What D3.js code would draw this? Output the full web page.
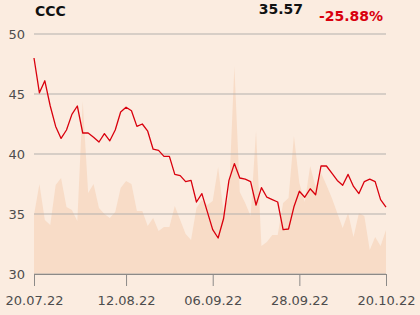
<!DOCTYPE html>
<html>
<head>
<script src="https://d3js.org/d3.v7.min.js"></script>
<style>
  body { margin: 0; background: #fbece0; }
  svg { font-family: "DejaVu Sans", sans-serif; }
</style>
</head>
<body>
<div id="chart"></div>
<script>
// trading days shown on the chart
var dates = ["20.07.22","21.07.22","22.07.22","25.07.22","26.07.22","27.07.22","28.07.22","29.07.22",
  "01.08.22","02.08.22","03.08.22","04.08.22","05.08.22","08.08.22","09.08.22","10.08.22","11.08.22","12.08.22",
  "16.08.22","17.08.22","18.08.22","19.08.22","22.08.22","23.08.22","24.08.22","25.08.22","26.08.22",
  "29.08.22","30.08.22","31.08.22","01.09.22","02.09.22","05.09.22","06.09.22",
  "07.09.22","08.09.22","09.09.22","12.09.22","13.09.22","14.09.22","15.09.22","16.09.22",
  "19.09.22","20.09.22","21.09.22","22.09.22","23.09.22","26.09.22","27.09.22","28.09.22",
  "29.09.22","30.09.22","03.10.22","04.10.22","05.10.22","06.10.22","07.10.22",
  "10.10.22","11.10.22","12.10.22","13.10.22","14.10.22","17.10.22","18.10.22","19.10.22","20.10.22"];

var prices = [48.0,45.1,46.1,44.0,42.3,41.3,42.0,43.3,44.0,41.75,41.75,41.4,41.0,41.7,41.1,42.0,43.5,43.9,
  43.6,42.3,42.5,41.9,40.4,40.3,39.8,39.8,38.3,38.2,37.7,37.8,36.0,36.7,35.2,33.7,
  33.0,34.6,37.8,39.2,38.0,37.9,37.7,35.75,37.2,36.4,36.2,36.0,33.7,33.75,35.6,36.9,
  36.4,37.1,36.6,39.0,39.0,38.4,37.8,37.4,38.3,37.3,36.7,37.7,37.9,37.7,36.2,35.57];

var volumes = [59,90,54,49,89,96,67,64,53,173,81,90,66,60,56,62,86,93,
  90,63,63,48,56,43,47,47,68,54,40,34,66,74,69,73,
  107,62,78,208,82,71,58,143,28,32,39,39,71,76,138,91,
  72,108,87,101,89,76,61,46,61,37,61,58,24,37,28,44];

var yTicks = [30, 35, 40, 45, 50];
var xTickLabels = ["20.07.22", "12.08.22", "06.09.22", "28.09.22", "20.10.22"];

var title = "CCC", lastPrice = "35.57", change = "-25.88%";

var W = 420, H = 315;
var margin = {top: 34, right: 34, bottom: 41, left: 34},
    width = W - margin.left - margin.right,
    height = H - margin.top - margin.bottom;

var svg = d3.select("#chart").append("svg")
    .attr("width", W).attr("height", H)
    .style("background", "#fbece0");

var g = svg.append("g").attr("transform", "translate(" + margin.left + "," + margin.top + ")");

var xScale = d3.scalePoint().domain(dates).range([0, width]);
var yScale = d3.scaleLinear().domain([30, 50]).range([height, 0]);
var vScale = d3.scaleLinear().domain([0, 240]).range([height, 0]);

// volume area
g.append("path")
  .datum(volumes)
  .attr("fill", "#f8dcc7")
  .attr("d", d3.area()
    .x(function(d, i) { return xScale(dates[i]); })
    .y0(height)
    .y1(function(d) { return vScale(d); }));

// grid
g.selectAll(".grid").data(yTicks).enter().append("line")
  .attr("x1", 0).attr("x2", width)
  .attr("y1", d => yScale(d)).attr("y2", d => yScale(d))
  .attr("stroke", "#b3b0ad").attr("stroke-width", 1);

// y labels
g.selectAll(".ylab").data(yTicks).enter().append("text")
  .attr("x", -9).attr("y", d => yScale(d))
  .attr("dy", "0.36em")
  .attr("text-anchor", "end")
  .attr("fill", "#4d4d4d")
  .style("font-size", "13px")
  .text(d => d);

// price line
g.append("path")
  .datum(prices)
  .attr("fill", "none")
  .attr("stroke", "#d9000d")
  .attr("stroke-width", 1.3)
  .attr("stroke-linejoin", "round")
  .attr("d", d3.line()
    .x(function(d, i) { return xScale(dates[i]); })
    .y(function(d) { return yScale(d); }));

// x axis
var xAxis = g.append("g")
  .attr("transform", "translate(0," + height + ")")
  .call(d3.axisBottom(xScale).tickValues(xTickLabels).tickSize(12).tickSizeOuter(0).tickPadding(10));
xAxis.select(".domain").attr("stroke", "#8c8a88");
xAxis.selectAll(".tick line").attr("stroke", "#8c8a88");
xAxis.selectAll("text")
  .attr("fill", "#4d4d4d")
  .style("font-size", "13px")
  .style("font-family", "DejaVu Sans, sans-serif");

// header
svg.append("text").attr("x", 35).attr("y", 16)
  .style("font-size", "14px").style("font-weight", "bold").attr("fill", "#111")
  .text(title);
svg.append("text").attr("x", 303).attr("y", 14).attr("text-anchor", "end")
  .style("font-size", "14px").style("font-weight", "bold").attr("fill", "#111")
  .text(lastPrice);
svg.append("text").attr("x", 383).attr("y", 21).attr("text-anchor", "end")
  .style("font-size", "14px").style("font-weight", "bold").attr("fill", "#d9000d")
  .text(change);
</script>
</body>
</html>
